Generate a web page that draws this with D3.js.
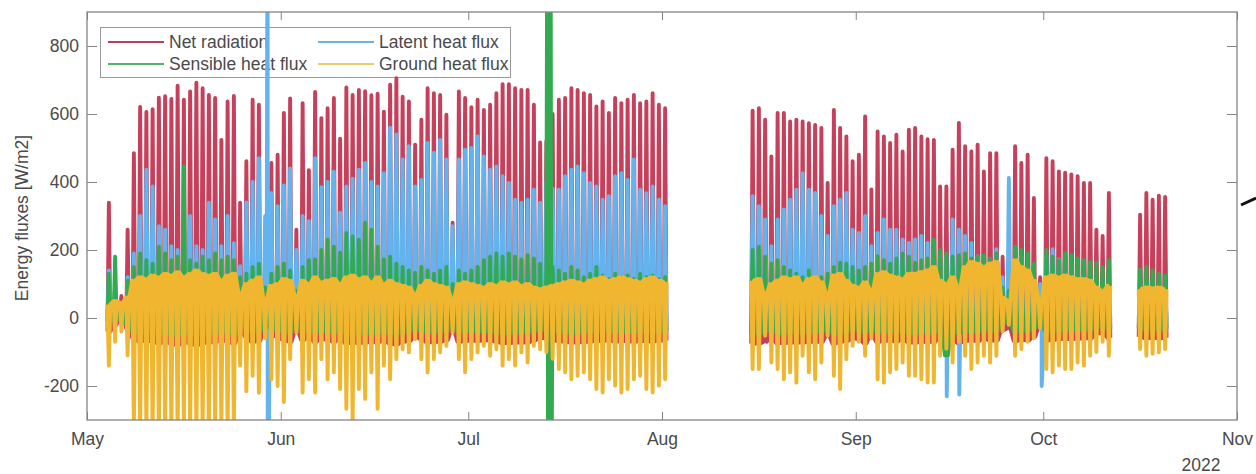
<!DOCTYPE html>
<html>
<head>
<meta charset="utf-8">
<script src="https://cdn.jsdelivr.net/npm/d3@7"></script>
<style>
  html, body { margin: 0; padding: 0; background: #fff; }
  svg { display: block; font-family: "Liberation Sans", Arial, sans-serif; }
</style>
</head>
<body>
<svg id="chart" width="1256" height="474"></svg>
<script>
// ---------------- DATA ----------------
// One entry per day, starting 2022-05-04 and ending 2022-10-21; null = no data.
const firstDay = "2022-05-04";

// Net radiation: daily midday peak and night value [W/m2]
const netRadPeak = [
  339, 100, 65, 260, 485, 621, 606, 614, 648, 652,
  644, 683, 642, 666, 692, 676, 656, 647, 524, 637,
  653, 339, 461, 642, 627, 200, 456, 480, 603, 646,
  260, 632, 435, 665, 588, 617, 647, 527, 678, 656,
  671, 667, 655, 660, 607, 686, 705, 651, 637, 510,
  583, 676, 661, 656, 598, 280, 666, 647, 620, 642,
  612, 627, 661, 688, 688, 676, 671, 671, 627, 516,
  520, 600, 642, 647, 676, 671, 661, 656, 622, 637,
  603, 647, 632, 642, 656, 632, 637, 661, 627, 617,
  null, null, null, null, null, null, null, null, null, null,
  null, null, null, 610, 617, 583, 475, 603, 603, 578,
  583, 578, 573, 568, 559, 397, 612, 559, 534, 461,
  480, 593, 378, 549, 534, 515, 539, 490, 554, 559,
  534, 526, 524, 387, 387, 495, 574, 505, 490, 510,
  431, 485, 485, 180, 150, 505, 456, 480, 353, 120,
  470, 461, 431, 427, 422, 417, 397, 397, 260, 241,
  368, null, null, null, null, 304, 368, 348, 360, 356
];
const netRadNight = [
  -40, -20, 10, -30, -60, -70, -65, -70, -75, -70,
  -75, -80, -70, -75, -80, -75, -70, -72, -60, -70,
  -75, -40, -55, -70, -68, -30, -50, -55, -65, -70,
  -35, -65, -55, -70, -60, -65, -70, -60, -75, -72,
  -74, -72, -70, -72, -65, -75, -78, -70, -68, -55,
  -62, -72, -70, -70, -65, -35, -70, -68, -66, -68,
  -65, -66, -70, -74, -74, -72, -72, -72, -66, -58,
  -60, -65, -68, -70, -72, -72, -70, -70, -66, -68,
  -64, -70, -68, -68, -70, -68, -68, -70, -66, -66,
  null, null, null, null, null, null, null, null, null, null,
  null, null, null, -75, -75, -70, -60, -74, -74, -72,
  -72, -72, -70, -70, -70, -50, -76, -70, -68, -60,
  -62, -74, -50, -70, -68, -66, -70, -62, -72, -72,
  -70, -70, -70, -55, -55, -65, -74, -68, -66, -68,
  -60, -66, -66, -35, -30, -68, -64, -66, -55, -25,
  -66, -65, -62, -62, -62, -61, -60, -60, -45, -45,
  -58, null, null, null, null, -55, -60, -58, -60, -58
];

// Latent heat flux
const latentPeak = [
  140, 90, 40, 120, 190, 300, 436, 387, 270, 260,
  211, 200, 290, 300, 211, 200, 339, 290, 211, 300,
  220, 152, 340, 400, 470, 300, 368, 329, 390, 440,
  200, 300, 285, 470, 385, 400, 430, 310, 387, 410,
  436, 456, 400, 387, 426, 560, 540, 466, 505, 387,
  406, 515, 486, 524, 466, 270, 466, 495, 500, 534,
  475, 436, 446, 417, 397, 348, 339, 348, 377, 339,
  400, 380, 377, 417, 436, 446, 426, 397, 387, 348,
  358, 417, 426, 406, 466, 377, 367, 387, 348, 329,
  null, null, null, null, null, null, null, null, null, null,
  null, null, null, 358, 329, 290, 211, 290, 319, 348,
  377, 426, 377, 368, 300, 241, 329, 348, 368, 260,
  250, 300, 211, 250, 290, 260, 260, 231, 221, 231,
  241, 221, 211, 182, 182, 290, 260, 241, 221, 182,
  163, 163, 202, 120, 412, 202, 182, 143, 143, 100,
  182, 202, 172, 182, 163, 143, 143, 133, 104, 84,
  123, null, null, null, null, 100, 110, 110, 100, 100
];
const latentNight = [
  10, 15, 5, 0, -5, -10, -8, -5, -6, -8,
  -10, -8, -5, -10, -8, -6, -10, -8, -5, -8,
  -10, 0, -5, -8, -10, 0, -5, -8, -10, -6,
  5, -8, -5, -10, -6, -8, -10, -5, -8, -10,
  -8, -10, -6, -8, -5, -10, -12, -8, -10, -5,
  -8, -10, -8, -10, -6, 5, -8, -10, -8, -10,
  -6, -8, -10, -8, -6, -8, -10, -8, -6, -5,
  -5, -8, -8, -10, -8, -6, -8, -10, -8, -6,
  -8, -10, -6, -8, -10, -8, -6, -8, -10, -8,
  null, null, null, null, null, null, null, null, null, null,
  null, null, null, -10, -8, -5, 0, -8, -10, -8,
  -10, -8, -6, -8, -10, 0, -8, -10, -8, -5,
  -5, -8, 0, -10, -8, -6, -8, -10, -8, -6,
  -8, -10, -8, -5, -5, -8, -10, -8, -6, -8,
  -8, -6, -8, 0, 0, -8, -6, -5, -5, 0,
  -8, -6, -5, -8, -6, -5, -6, -5, -3, -2,
  -5, null, null, null, null, -5, -6, -5, -4, -5
];
// isolated latent heat flux spikes
const latentSpikeTimes = ["2022-05-29T21:30", "2022-05-29T22:00", "2022-07-13T21:30", "2022-09-15T13:30", "2022-09-17T13:30", "2022-09-30T18:00"];
const latentSpikeValues = [1300, -700, -700, -230, -225, -200];

// Sensible heat flux
const sensiblePeak = [
  130, 180, 40, 110, 150, 190, 170, 160, 210, 190,
  170, 180, 446, 170, 160, 180, 170, 190, 170, 180,
  170, 120, 130, 150, 160, 90, 130, 150, 160, 140,
  80, 150, 170, 172, 200, 230, 210, 192, 250, 240,
  230, 280, 260, 210, 172, 180, 160, 150, 140, 133,
  150, 140, 130, 140, 150, 100, 140, 130, 140, 150,
  170, 180, 190, 180, 190, 180, 172, 185, 175, 160,
  150, 150, 140, 130, 150, 140, 120, 130, 150, 125,
  115, 130, 120, 125, 115, 130, 120, 125, 114, 120,
  null, null, null, null, null, null, null, null, null, null,
  null, null, null, 200, 210, 180, 160, 170, 150, 140,
  130, 120, 140, 110, 120, 130, 150, 163, 160, 150,
  140, 150, 160, 182, 170, 160, 175, 190, 180, 163,
  170, 175, 231, 200, 190, 180, 185, 190, 175, 180,
  185, 175, 190, 90, 80, 210, 200, 190, 160, 60,
  200, 180, 170, 190, 185, 175, 170, 165, 163, 150,
  170, null, null, null, null, 143, 150, 140, 130, 125
];
const sensibleNight = [
  -10, -5, 0, -20, -40, -45, -40, -42, -45, -48,
  -45, -50, -40, -45, -48, -45, -42, -44, -35, -42,
  -46, -20, -30, -40, -42, -15, -30, -34, -40, -42,
  -15, -40, -35, -42, -38, -40, -42, -36, -45, -44,
  -44, -46, -42, -44, -40, -45, -46, -42, -40, -32,
  -36, -42, -40, -40, -38, -15, -40, -40, -38, -40,
  -38, -40, -42, -44, -44, -42, -42, -42, -38, -32,
  -35, -38, -40, -42, -44, -42, -40, -40, -38, -40,
  -36, -42, -40, -40, -42, -40, -40, -42, -38, -38,
  null, null, null, null, null, null, null, null, null, null,
  null, null, null, -45, -45, -40, -30, -44, -44, -42,
  -42, -42, -40, -40, -40, -25, -46, -42, -40, -32,
  -34, -44, -25, -42, -40, -38, -42, -34, -44, -44,
  -42, -42, -42, -30, -110, -38, -44, -40, -38, -40,
  -34, -38, -38, -15, -12, -40, -36, -38, -30, -10,
  -38, -38, -36, -36, -36, -35, -34, -34, -25, -25,
  -32, null, null, null, null, -30, -34, -32, -34, -32
];
// burst of out-of-range sensible heat flux values (13-14 July)
const sensibleSpikeTimes = ["2022-07-13T16:00", "2022-07-13T19:00", "2022-07-13T22:00", "2022-07-14T01:00", "2022-07-14T04:00", "2022-07-14T07:00"];
const sensibleSpikeValues = [1400, -600, 1400, -600, 1400, -600];

// Ground heat flux: daytime minimum and night value
const groundMin = [
  -140, -70, -40, -110, -330, -340, -320, -335, -345, -330,
  -340, -350, -320, -335, -345, -330, -340, -320, -330, -345,
  -335, -140, -215, -170, -220, -60, -180, -200, -247, -121,
  -43, -219, -180, -219, -121, -180, -160, -209, -267, -305,
  -209, -238, -160, -267, -140, -180, -121, -92, -101, -62,
  -121, -160, -121, -101, -82, -43, -121, -160, -121, -101,
  -82, -111, -92, -140, -121, -140, -101, -131, -82, -92,
  -100, -120, -150, -160, -180, -170, -160, -180, -209, -219,
  -180, -199, -219, -209, -180, -170, -209, -219, -199, -180,
  null, null, null, null, null, null, null, null, null, null,
  null, null, null, -150, -150, -52, -131, -150, -180, -160,
  -190, -111, -160, -180, -131, -52, -170, -209, -121, -82,
  -70, -111, -60, -180, -190, -160, -150, -131, -170, -170,
  -180, -190, -190, -111, -90, -131, -70, -111, -150, -131,
  -111, -131, -111, -40, -20, -111, -91, -70, -60, -30,
  -150, -160, -140, -150, -150, -131, -140, -111, -100, -70,
  -111, null, null, null, null, -91, -111, -105, -101, -91
];
const groundNight = [
  40, 50, 45, 60, 110, 120, 115, 125, 120, 130,
  125, 135, 120, 130, 140, 130, 125, 130, 110, 125,
  130, 70, 100, 110, 120, 50, 95, 100, 115, 110,
  60, 110, 100, 120, 105, 110, 115, 100, 120, 125,
  115, 120, 105, 120, 100, 110, 100, 95, 90, 70,
  95, 110, 100, 95, 90, 55, 100, 105, 100, 95,
  90, 100, 95, 105, 100, 105, 95, 100, 90, 85,
  90, 95, 100, 105, 110, 105, 100, 110, 115, 120,
  110, 115, 120, 115, 110, 105, 115, 120, 110, 105,
  null, null, null, null, null, null, null, null, null, null,
  null, null, null, 110, 115, 70, 100, 110, 120, 115,
  120, 100, 115, 120, 105, 70, 125, 130, 110, 95,
  90, 105, 80, 130, 135, 125, 120, 115, 130, 130,
  135, 140, 150, 110, 100, 120, 90, 150, 165, 160,
  150, 160, 165, 60, 50, 170, 150, 140, 110, 50,
  120, 125, 120, 125, 120, 115, 115, 110, 90, 80,
  95, null, null, null, null, 85, 90, 88, 90, 85
];

const seriesNames = ["Net radiation", "Latent heat flux", "Sensible heat flux", "Ground heat flux"];
const yTicks = [-200, 0, 200, 400, 600, 800];
const xTickMonths = ["2022-05-01", "2022-06-01", "2022-07-01", "2022-08-01", "2022-09-01", "2022-10-01", "2022-11-01"];
const yearLabel = "2022";
const yLabel = "Energy fluxes [W/m2]";

// ---------------- CHART ----------------
const colors = ["#c6405c", "#62b3ee", "#32aa52", "#f1b630"];
const legendColors = ["#b8405c", "#6cb4e6", "#52b46a", "#eccb6a"];

const parseDay = d3.timeParse("%Y-%m-%d");
const parseTime = d3.timeParse("%Y-%m-%dT%H:%M");
const day0 = parseDay(firstDay);

const plot = { left: 87, right: 1237, top: 12, bottom: 420 };
const x = d3.scaleTime()
  .domain([parseDay(xTickMonths[0]), parseDay(xTickMonths[xTickMonths.length - 1])])
  .range([plot.left, plot.right]);
const y = d3.scaleLinear().domain([-300, 900]).range([plot.bottom, plot.top]);

const svg = d3.select("#chart");
const axisColor = "#858585";
const textColor = "#4a4a4a";

// legend (drawn beneath the data, like the reference where the spike crosses it)
const legend = svg.append("g");
legend.append("rect").attr("x", 100.5).attr("y", 27.5).attr("width", 410).attr("height", 50)
  .attr("fill", "#fff").attr("stroke", "#9a9a9a").attr("stroke-width", 1);
const legPos = [
  { lx: 108, ly: 42 }, { lx: 318, ly: 42 }, { lx: 108, ly: 64 }, { lx: 318, ly: 64 }
];
seriesNames.forEach((name, i) => {
  const p = legPos[i];
  legend.append("line").attr("x1", p.lx).attr("x2", p.lx + 56).attr("y1", p.ly).attr("y2", p.ly)
    .attr("stroke", legendColors[i]).attr("stroke-width", 2.2);
  legend.append("text").attr("x", p.lx + 61).attr("y", p.ly).attr("dy", "0.35em")
    .attr("font-size", 17.5).attr("fill", textColor).text(name);
});

// clip
svg.append("clipPath").attr("id", "clip").append("rect")
  .attr("x", plot.left).attr("y", plot.top)
  .attr("width", plot.right - plot.left).attr("height", plot.bottom - plot.top);

function buildPoints(peaks, nights, spikeTimes, spikeValues) {
  const pts = [];
  peaks.forEach((p, i) => {
    const day = d3.timeDay.offset(day0, i);
    if (p == null) { pts.push({ t: d3.timeHour.offset(day, 12), v: null }); return; }
    pts.push({ t: d3.timeMinute.offset(day, 6 * 60 + 30), v: nights[i] });
    pts.push({ t: d3.timeHour.offset(day, 12), v: p });
    pts.push({ t: d3.timeMinute.offset(day, 17 * 60 + 30), v: nights[i] });
  });
  (spikeTimes || []).forEach((s, i) => pts.push({ t: parseTime(s), v: spikeValues[i] }));
  pts.sort((a, b) => a.t - b.t);
  return pts;
}

const seriesPoints = [
  buildPoints(netRadPeak, netRadNight),
  buildPoints(latentPeak, latentNight, latentSpikeTimes, latentSpikeValues),
  buildPoints(sensiblePeak, sensibleNight, sensibleSpikeTimes, sensibleSpikeValues),
  buildPoints(groundMin, groundNight)
];

const line = d3.line().defined(d => d.v != null).x(d => x(d.t)).y(d => y(d.v));
const dataG = svg.append("g").attr("clip-path", "url(#clip)");
seriesPoints.forEach((pts, i) => {
  dataG.append("path").datum(pts).attr("d", line)
    .attr("fill", "none").attr("stroke", colors[i]).attr("stroke-width", 3.9)
    .attr("stroke-linejoin", "round");
});

// axes (MATLAB style: box, inward ticks)
const xTicks = xTickMonths.map(parseDay);
const fmtMonth = d3.timeFormat("%b");
const fmtY = d => String(d);
const gx = svg.append("g").attr("transform", `translate(0,${plot.bottom})`)
  .call(d3.axisBottom(x).tickValues(xTicks).tickFormat(fmtMonth).tickSizeInner(-8).tickSizeOuter(0).tickPadding(13));
const gxTop = svg.append("g").attr("transform", `translate(0,${plot.top})`)
  .call(d3.axisTop(x).tickValues(xTicks).tickFormat("").tickSizeInner(-8).tickSizeOuter(0));
const gy = svg.append("g").attr("transform", `translate(${plot.left},0)`)
  .call(d3.axisLeft(y).tickValues(yTicks).tickFormat(fmtY).tickSizeInner(-10).tickSizeOuter(0).tickPadding(8));
const gyR = svg.append("g").attr("transform", `translate(${plot.right},0)`)
  .call(d3.axisRight(y).tickValues(yTicks).tickFormat("").tickSizeInner(-10).tickSizeOuter(0));
[gx, gxTop, gy, gyR].forEach(g => {
  g.select(".domain").remove();
  g.selectAll(".tick line").attr("stroke", axisColor);
  g.selectAll(".tick text").attr("fill", textColor).attr("font-size", 17.5)
    .attr("font-family", "Liberation Sans, Arial, sans-serif");
});
svg.append("rect").attr("x", plot.left).attr("y", plot.top)
  .attr("width", plot.right - plot.left).attr("height", plot.bottom - plot.top)
  .attr("fill", "none").attr("stroke", axisColor).attr("stroke-width", 1.3);

svg.append("text").attr("x", 1201).attr("y", 471).attr("text-anchor", "middle")
  .attr("font-size", 17.5).attr("fill", textColor).text(yearLabel);

svg.append("text").attr("transform", `translate(28,${(plot.top + plot.bottom) / 2 + 2}) rotate(-90)`)
  .attr("text-anchor", "middle").attr("font-size", 17.5).attr("fill", textColor).text(yLabel);

// stray arrow fragment at the right edge of the reference image
svg.append("line").attr("x1", 1241).attr("y1", 205).attr("x2", 1256).attr("y2", 198)
  .attr("stroke", "#111").attr("stroke-width", 3);
</script>
</body>
</html>
